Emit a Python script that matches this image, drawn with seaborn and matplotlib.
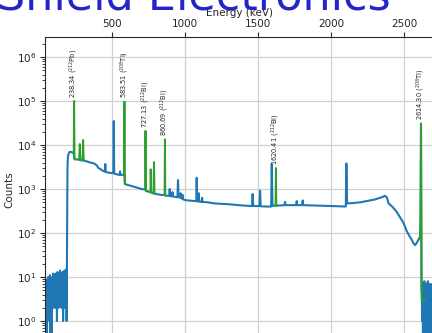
import numpy as np
import pandas as pd
import matplotlib
matplotlib.use("Agg")
import matplotlib.pyplot as plt
import seaborn as sns

spec_energy = [
    37, 40, 43, 46, 49, 52, 55, 58, 61, 64, 67, 70, 73, 76, 79, 82, 85, 88,
    91, 94, 97, 100, 103, 106, 109, 112, 115, 118, 121, 124, 127, 130, 133,
    136, 139, 142, 145, 148, 151, 154, 157, 160, 163, 166, 169, 172, 175,
    178, 181, 184, 187, 189,
    190, 191, 193, 196, 200, 206, 212, 220, 228, 236, 241, 250, 262, 270,
    285, 295, 310, 330, 347, 365, 382, 395, 404, 415, 427, 445, 450, 452,
    454, 461, 480, 496, 507, 510, 513, 530, 550, 553, 556, 575, 583, 586,
    600, 620, 640, 660, 680, 700, 720, 727, 731, 745, 760, 770, 780, 800,
    820, 840, 858, 862, 880, 890, 893, 896, 909, 912, 915, 946, 950, 954,
    965, 968, 971, 979, 982, 985, 1000, 1040, 1075, 1078, 1081, 1089, 1092,
    1095, 1112, 1115, 1118, 1150, 1200, 1250, 1300, 1350, 1400, 1457, 1461,
    1465, 1508, 1512, 1516, 1550, 1588, 1592, 1597, 1610, 1630, 1680, 1683,
    1686, 1720, 1760, 1763, 1766, 1800, 1804, 1808, 1850, 1900, 1950, 2000,
    2050, 2099, 2103, 2108, 2150, 2200, 2250, 2300, 2340, 2368, 2380, 2392,
    2420, 2448, 2470, 2494, 2517, 2535, 2551, 2563, 2574, 2585, 2596, 2607,
    2611, 2614, 2617,
    2619, 2622, 2625, 2628, 2631, 2634, 2637, 2640, 2643, 2646, 2649, 2652,
    2655, 2658, 2661, 2664, 2667, 2670, 2673, 2676, 2679, 2682, 2685, 2688,
    2691, 2694, 2697, 2700, 2703, 2706, 2709,
]
spec_counts = [
    6, 2, 9, 1, 8, 0.1, 7, 2, 10, 3, 8, 1, 11, 0.1, 9, 2, 0.1, 10,
    3, 12, 2, 9, 4, 11, 2, 12, 3, 10, 1, 13, 4, 11, 2,
    12, 5, 14, 3, 10, 2, 12, 4, 13, 1, 11, 3, 14, 2,
    12, 5, 15, 1, 14,
    40, 400, 3000, 5500, 6200, 6900, 7000, 6900, 6700, 6600, 4800, 4700, 4700, 4700,
    4500, 4500, 4400, 4200, 4000, 3900, 3700, 3400, 3000, 2900, 2700, 2500, 2500, 3700,
    2500, 2400, 2350, 2300, 2300, 35000, 2250, 2150, 2100, 2500, 2100, 2100, 2100, 1300,
    1250, 1200, 1150, 1100, 1050, 1000, 980, 980, 900, 880, 850, 830, 800, 770,
    750, 730, 730, 710, 700, 700, 1000, 690, 680, 850, 680, 650, 1600, 650,
    640, 800, 630, 600, 730, 580, 560, 540, 530, 1800, 530, 520, 800,
    520, 510, 630, 510, 500, 470, 460, 450, 435, 420, 410, 770,
    410, 410, 920, 405, 400, 400, 3700, 410, 420, 420, 430, 510,
    430, 430, 430, 530, 430, 430, 550, 430, 425, 420, 415, 410,
    405, 400, 3800, 470, 480, 500, 540, 580, 640, 700, 650, 470,
    390, 300, 230, 170, 110, 85, 70, 58, 53, 60, 70, 80,
    130, 30000, 5,
    5, 1, 7, 0.1, 6, 2, 8, 1, 6, 0.1, 7, 2,
    5, 1, 8, 0.1, 6, 2, 7, 1, 5, 0.1, 6, 2,
    7, 1, 5, 2, 6, 1, 4,
]

# fitted peak regions (green)
fit_roi = ([1] * 5 + [2] * 8 + [3] * 5 + [4] * 5 + [5] * 8 + [6] * 5
           + [7] * 5 + [8] * 8)
fit_energy = [
    231, 236, 238.3, 241, 246,
    268, 273, 277.4, 281, 296, 300.1, 304, 309,
    576, 580.5, 583.2, 586, 592,
    721, 725, 727.3, 730, 735,
    757, 761, 763.1, 766, 782, 785.5, 789, 795,
    853, 858, 860.6, 863, 868,
    1614, 1618, 1620.7, 1623, 1628,
    2598, 2604, 2608, 2611, 2614.3, 2617, 2619, 2641,
]
fit_counts = [
    6700, 6700, 100000, 4800, 4700,
    4700, 4600, 10500, 4600, 4500, 13000, 4400, 4400,
    2100, 2100, 97000, 1300, 1300,
    1000, 1000, 21000, 900, 900,
    850, 850, 2800, 830, 800, 4100, 790, 780,
    740, 740, 13500, 720, 710,
    420, 420, 3000, 420, 420,
    70, 78, 85, 300, 31000, 200, 3, 3,
]

label_energy = [238.3, 583.2, 727.3, 860.6, 1620.7, 2614.3]
label_top = [100000, 97000, 21000, 13500, 3000, 31000]
label_text = ["238.34 ($^{212}$Pb)", "583.51 ($^{208}$Tl)",
              "727.13 ($^{212}$Bi)", "860.69 ($^{212}$Bi)",
              "1620.41 ($^{212}$Bi)", "2614.30 ($^{208}$Tl)"]

sns.set_style("whitegrid", {"axes.edgecolor": "0.15", "grid.color": "0.82",
                            "xtick.top": True, "ytick.left": True})
plt.rcParams["font.family"] = ["DejaVu Sans"]

fig = plt.figure(figsize=(4.32, 3.33), dpi=100)
ax = fig.add_axes([44.7 / 432, 1 - 343 / 333, (435 - 44.7) / 432, 306 / 333])

spec = pd.DataFrame({"energy": spec_energy, "counts": spec_counts})
fits = pd.DataFrame({"energy": fit_energy, "counts": fit_counts, "roi": fit_roi})

sns.lineplot(data=spec, x="energy", y="counts", ax=ax, color="#1f77b4",
             linewidth=1.5, estimator=None, sort=False)
sns.lineplot(data=fits, x="energy", y="counts", units="roi", ax=ax,
             color="#2ca02c", linewidth=1.4, estimator=None, sort=False)

for e, top, txt in zip(label_energy, label_top, label_text):
    ax.text(e, top * 1.18, txt, rotation=90, ha="center", va="bottom",
            fontsize=4.8, color="0.15")

ax.set_yscale("log")
ax.set_xlim(37, 2710)
ax.set_ylim(10 ** -0.5, 10 ** 6.455)
ax.set_xticks([500, 1000, 1500, 2000, 2500])
ax.xaxis.tick_top()
ax.xaxis.set_label_position("top")
ax.set_xlabel("Energy (keV)", fontsize=7.5, labelpad=2)
ax.set_ylabel("Counts", fontsize=7.5, labelpad=2)
ax.tick_params(axis="both", which="major", labelsize=7.5, length=3.5,
               width=0.8, color="0.15", pad=2.5)
ax.tick_params(axis="y", which="minor", length=2, width=0.6, color="0.15")
ax.grid(True, which="major", linewidth=0.9)
for side in ["right", "bottom"]:
    ax.spines[side].set_visible(False)

fig.text(-0.008, 1 - 9 / 333, "Shield Electronics", fontsize=32,
         color="#2424c8", ha="left", va="baseline")

fig.savefig("out.png", dpi=100)
